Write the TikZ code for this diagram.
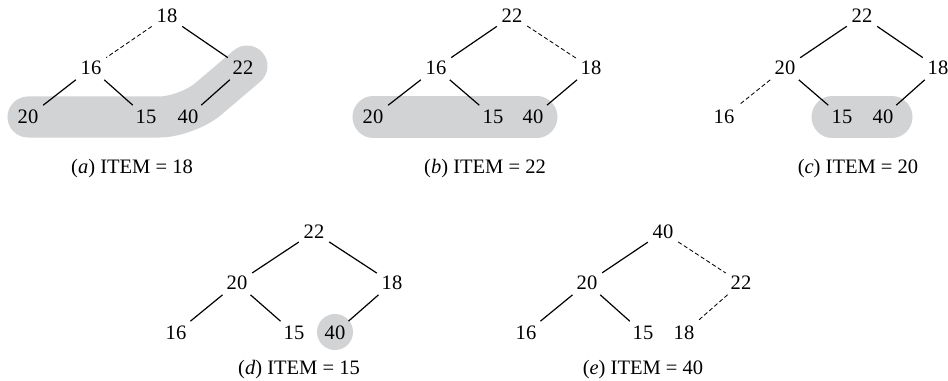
\documentclass[tikz,border=0pt]{standalone}
\usepackage{fontspec}
\setmainfont{Liberation Serif}
\usepackage{tikz}
\definecolor{bandc}{HTML}{D2D3D5}
\tikzset{
  nd/.style={inner sep=3.3pt,font=\fontsize{14.6}{17}\selectfont},
  capt/.style={inner sep=0pt,font=\fontsize{14.6}{17}\selectfont},
  ln/.style={line width=0.85pt},
  dl/.style={line width=0.6pt,dash pattern=on 3pt off 1.8pt},
  band/.style={line width=1.025cm,bandc,line cap=round,line join=round}
}

\begin{document}
\begin{tikzpicture}[x=0.025cm,y=-0.025cm]
\useasboundingbox (0,0) rectangle (948,381);
\draw[band,rounded corners=0.7cm] (28,117) -- (187,117) -- (247,66);
\draw[band] (373,117) -- (537,117);
\draw[band] (832,117) -- (892,117);
\fill[bandc] (335,332) circle (0.45cm);
% (a)
\node[nd] (a18) at (167,16) {18};
\node[nd] (a16) at (91,68) {16};
\node[nd] (a22) at (243,68) {22};
\node[nd] (a20) at (28,117) {20};
\node[nd] (a15) at (146,117) {15};
\node[nd] (a40) at (188,117) {40};
\draw[dl] (a18) -- (a16);
\draw[ln] (a18) -- (a22);
\draw[ln] (a16) -- (a20);
\draw[ln] (a16) -- (a15);
\draw[ln] (a22) -- (a40);
\node[capt] (capa) at (132,169) {(\textit{a}) ITEM = 18};
% (b)
\node[nd] (b22) at (512,16) {22};
\node[nd] (b16) at (436,68) {16};
\node[nd] (b18) at (591,68) {18};
\node[nd] (b20) at (373,117) {20};
\node[nd] (b15) at (493,117) {15};
\node[nd] (b40) at (533,117) {40};
\draw[ln] (b22) -- (b16);
\draw[dl] (b22) -- (b18);
\draw[ln] (b16) -- (b20);
\draw[ln] (b16) -- (b15);
\draw[ln] (b18) -- (b40);
\node[capt] (capb) at (485,169) {(\textit{b}) ITEM = 22};
% (c)
\node[nd] (c22) at (862,16) {22};
\node[nd] (c20) at (785,68) {20};
\node[nd] (c18) at (938,68) {18};
\node[nd] (c16) at (724,117) {16};
\node[nd] (c15) at (842,117) {15};
\node[nd] (c40) at (883,117) {40};
\draw[ln] (c22) -- (c20);
\draw[ln] (c22) -- (c18);
\draw[dl] (c20) -- (c16);
\draw[ln] (c20) -- (c15);
\draw[ln] (c18) -- (c40);
\node[capt] (capc) at (858,169) {(\textit{c}) ITEM = 20};
% (d)
\node[nd] (d22) at (314,232) {22};
\node[nd] (d20) at (237,283) {20};
\node[nd] (d18) at (392,283) {18};
\node[nd] (d16) at (176,333) {16};
\node[nd] (d15) at (294,333) {15};
\node[nd] (d40) at (335,333) {40};
\draw[ln] (d22) -- (d20);
\draw[ln] (d22) -- (d18);
\draw[ln] (d20) -- (d16);
\draw[ln] (d20) -- (d15);
\draw[ln] (d18) -- (d40);
\node[capt] (capd) at (299,370) {(\textit{d}) ITEM = 15};
% (e)
\node[nd] (e40) at (663,232) {40};
\node[nd] (e20) at (587,283) {20};
\node[nd] (e22) at (741,283) {22};
\node[nd] (e16) at (526,333) {16};
\node[nd] (e15) at (643,333) {15};
\node[nd] (e18) at (684,333) {18};
\draw[ln] (e40) -- (e20);
\draw[dl] (e40) -- (e22);
\draw[ln] (e20) -- (e16);
\draw[ln] (e20) -- (e15);
\draw[dl] (e22) -- (e18);
\node[capt] (cape) at (643,370) {(\textit{e}) ITEM = 40};
\end{tikzpicture}
\end{document}
